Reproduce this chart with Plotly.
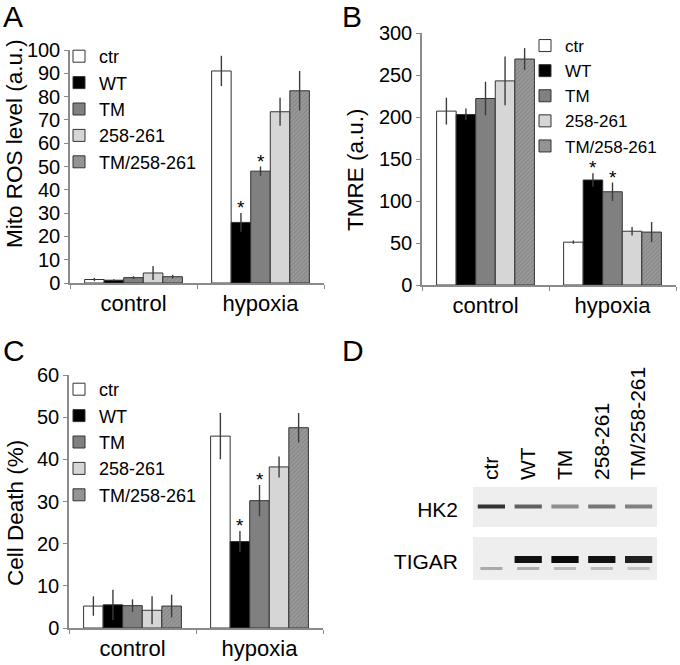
import plotly.graph_objects as go

# ---- data ----
groups = ["control", "hypoxia"]
series = ["ctr", "WT", "TM", "258-261", "TM/258-261"]

# panel A - Mito ROS level (a.u.), rows = series, cols = groups
ros_vals = [[1.5, 91.0], [1.2, 26.0], [2.3, 48.0], [4.3, 73.5], [2.7, 82.5]]
ros_errs = [[0.7, 6.5], [0.4, 4.0], [0.6, 2.0], [3.0, 6.0], [0.8, 8.5]]

# panel B - TMRE (a.u.)
tmre_vals = [[207, 51], [203, 125], [222, 111], [243, 64], [269, 63]]
tmre_errs = [[16, 2], [7, 8], [20, 11], [29, 5], [13, 12]]

# panel C - Cell Death (%)
death_vals = [[5.2, 45.5], [5.5, 20.5], [5.3, 30.2], [4.2, 38.2], [5.2, 47.5]]
death_errs = [[2.3, 5.5], [3.6, 2.5], [1.5, 3.7], [3.3, 2.5], [2.7, 3.5]]

# significance marks (series index, group index) per panel
ros_sig = [(1, 1), (2, 1)]
tmre_sig = [(1, 1), (2, 1)]
death_sig = [(1, 1), (2, 1)]

# panel D - western blot, relative band intensity per lane
lanes = ["ctr", "WT", "TM", "258-261", "TM/258-261"]
hk2_band = [0.82, 0.62, 0.42, 0.52, 0.48]
tigar_band = [0.0, 0.97, 1.0, 0.97, 0.9]
tigar_lower = [0.3, 0.28, 0.22, 0.22, 0.18]

FONT = "Liberation Sans, Arial, sans-serif"
fills = ["white", "black", "#808080", "#d6d6d6", "#8e8e8e"]
BARGAP = 0.23

fig = go.Figure()


def add_panel(vals, errs, xa, ya, legend):
    for i, name in enumerate(series):
        marker = dict(color=fills[i], line=dict(color="#333333", width=1))
        if i == 4:
            marker["pattern"] = dict(shape="/", fgcolor="#6a6a6a", bgcolor="#999999",
                                     size=3, solidity=0.3)
        fig.add_trace(go.Bar(
            x=groups, y=vals[i], name=name, marker=marker,
            error_y=dict(type="data", array=errs[i], color="#3c3c3c",
                         thickness=1.4, width=0),
            xaxis=xa, yaxis=ya, legend=legend, offsetgroup=str(i),
        ))


def add_stars(vals, errs, sig, xa, ya):
    n = len(series)
    bw = (1 - BARGAP) / n
    for s, g in sig:
        fig.add_annotation(
            x=g - (1 - BARGAP) / 2 + bw * (s + 0.5), y=vals[s][g] + errs[s][g],
            xref=xa, yref=ya, text="*", showarrow=False, yanchor="bottom",
            yshift=-7, font=dict(family=FONT, size=19, color="black"))


add_panel(ros_vals, ros_errs, "x", "y", "legend")
add_panel(tmre_vals, tmre_errs, "x2", "y2", "legend2")
add_panel(death_vals, death_errs, "x3", "y3", "legend3")
add_stars(ros_vals, ros_errs, ros_sig, "x", "y")
add_stars(tmre_vals, tmre_errs, tmre_sig, "x2", "y2")
add_stars(death_vals, death_errs, death_sig, "x3", "y3")

# ---- blot (panel D) ----
lane_idx = list(range(len(lanes)))


def band_colors(levels):
    out = []
    for v in levels:
        g = int(238 - 228 * v)
        out.append(f"rgb({g},{g},{g})")
    return out


blot = dict(xaxis="x4", yaxis="y4", showlegend=False, offsetgroup="blot",
            hoverinfo="skip")
# membrane strips
fig.add_trace(go.Bar(x=[2, 2], y=[40, 43], base=[53, 0], width=5,
                     marker=dict(color="#eeeeee", line=dict(width=0)), **blot))
fig.add_trace(go.Bar(x=lane_idx, y=[4] * 5, base=[71.5] * 5, width=0.74,
                     marker=dict(color=band_colors(hk2_band), line=dict(width=0)),
                     **blot))
fig.add_trace(go.Bar(x=lane_idx, y=[7] * 5, base=[17] * 5, width=0.74,
                     marker=dict(color=band_colors(tigar_band), line=dict(width=0)),
                     **blot))
fig.add_trace(go.Bar(x=lane_idx, y=[3] * 5, base=[10] * 5, width=0.6,
                     marker=dict(color=band_colors(tigar_lower), line=dict(width=0)),
                     **blot))

ytick_font = dict(family=FONT, size=20, color="black")
xtick_font = dict(family=FONT, size=22, color="black")
label_font = dict(family=FONT, size=21, color="black")
xcommon = dict(type="category", showline=True, linecolor="#8a8a8a", linewidth=1.5,
               ticks="outside", tickson="boundaries", ticklen=4, tickcolor="#8a8a8a",
               tickfont=xtick_font, showgrid=False, zeroline=False, fixedrange=True)
ycommon = dict(showline=True, linecolor="#8a8a8a", linewidth=1.5, ticks="outside",
               ticklen=4, tickcolor="#8a8a8a", tickfont=ytick_font, showgrid=False,
               zeroline=False, fixedrange=True)

legend_common = dict(bgcolor="rgba(0,0,0,0)", xanchor="left", yanchor="top",
                     traceorder="normal")
legend_font = dict(family=FONT, size=18, color="black")

fig.update_layout(
    width=680, height=665, margin=dict(l=0, r=0, t=0, b=0, autoexpand=False),
    paper_bgcolor="white", plot_bgcolor="white",
    barmode="group", bargap=BARGAP, bargroupgap=0,
    font=dict(family=FONT, color="black"),
    xaxis=dict(xcommon, domain=[70 / 680, 324 / 680], anchor="y"),
    yaxis=dict(ycommon, domain=[1 - 283 / 665, 1 - 50 / 665], range=[0, 100],
               dtick=10, anchor="x"),
    xaxis2=dict(xcommon, domain=[422 / 680, 676 / 680], anchor="y2"),
    yaxis2=dict(ycommon, domain=[1 - 285 / 665, 1 - 33 / 665], range=[0, 300],
                dtick=50, anchor="x2"),
    xaxis3=dict(xcommon, domain=[69 / 680, 323 / 680], anchor="y3"),
    yaxis3=dict(ycommon, domain=[1 - 628 / 665, 1 - 375 / 665], range=[0, 60],
                dtick=10, anchor="x3"),
    xaxis4=dict(domain=[473 / 680, 657 / 680], range=[-0.5, 4.5], anchor="y4",
                side="top", tickvals=lane_idx, ticktext=lanes, tickangle=-90,
                tickfont=label_font, showline=False, showgrid=False, zeroline=False,
                ticks="", ticklabelstandoff=6, fixedrange=True),
    yaxis4=dict(domain=[1 - 580 / 665, 1 - 487 / 665], range=[0, 93], anchor="x4",
                tickvals=[70, 18], ticktext=["HK2", "TIGAR"], tickfont=label_font,
                showline=False, showgrid=False, zeroline=False, ticks="",
                ticklabelstandoff=14, fixedrange=True),
    legend=dict(legend_common, font=legend_font, x=59 / 680, y=1 - 38 / 665),
    legend2=dict(legend_common, font=dict(legend_font, size=17),
                 x=525 / 680, y=1 - 28 / 665),
    legend3=dict(legend_common, font=legend_font, x=59 / 680, y=1 - 371 / 665),
)

# panel letters and y-axis titles
for letter, px, py in [("A", 1, -2), ("B", 340, -2), ("C", 1, 332), ("D", 340, 332)]:
    fig.add_annotation(text=letter, x=px / 680, y=1 - py / 665, xref="paper", yref="paper",
                       xanchor="left", yanchor="top", showarrow=False,
                       font=dict(family=FONT, size=30, color="black"))

for title, px, py in [("Mito ROS level (a.u.)", 15, 144), ("TMRE (a.u.)", 355, 170),
                      ("Cell Death (%)", 15, 513)]:
    fig.add_annotation(text=title, x=px / 680, y=1 - py / 665, xref="paper", yref="paper",
                       xanchor="center", yanchor="middle", textangle=-90, showarrow=False,
                       font=dict(family=FONT, size=22.5, color="black"))

# the page's default body margin would shift the figure by 8 px
fig.write_html("out.html", config={"displayModeBar": False},
               post_script="document.body.style.margin='0';")
